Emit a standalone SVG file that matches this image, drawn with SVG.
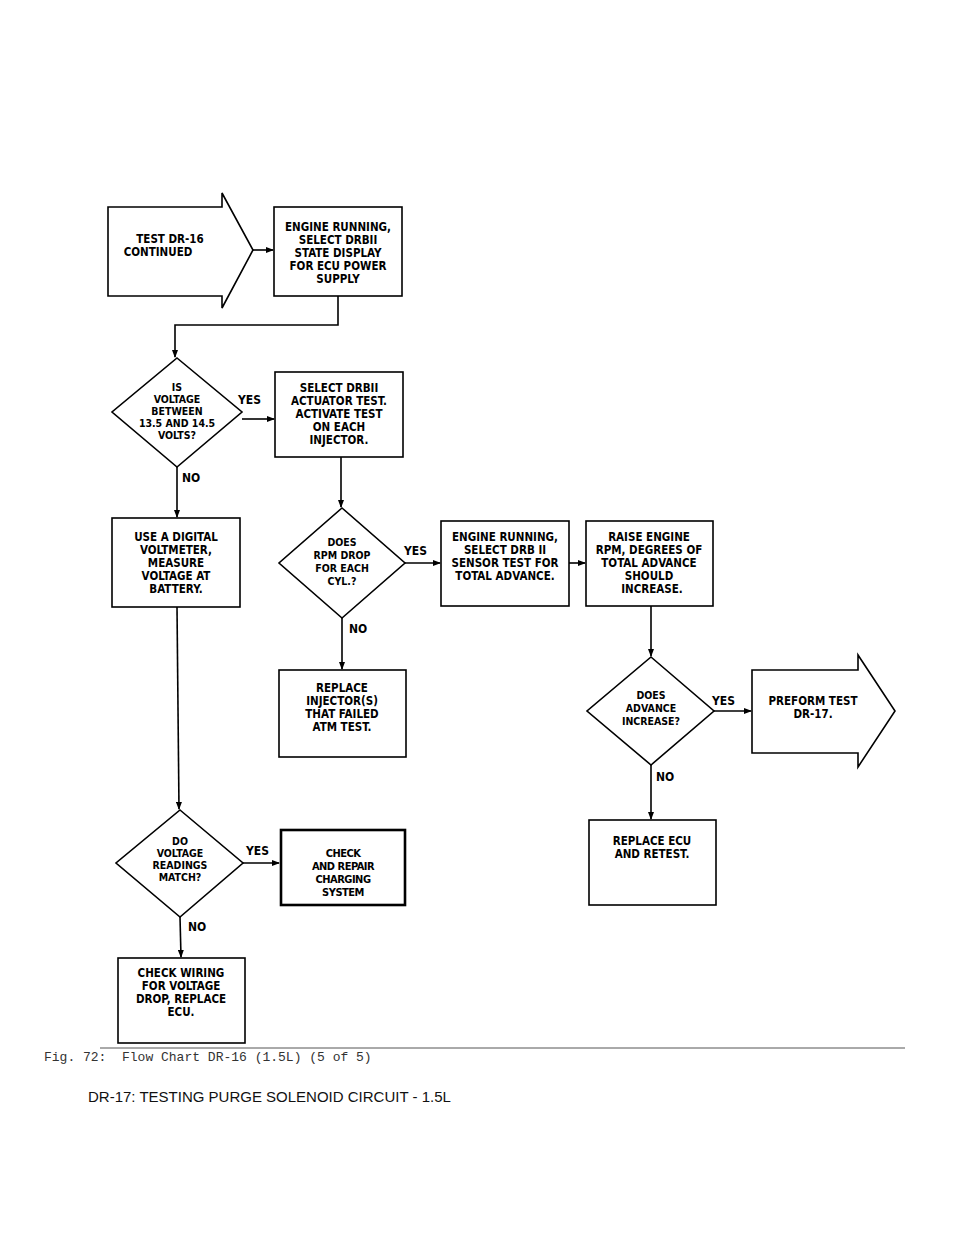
<svg xmlns="http://www.w3.org/2000/svg" width="960" height="1242" viewBox="0 0 960 1242">
<style>
.s{fill:#fff;stroke:#000;stroke-width:1.6}
.t{font-family:"DejaVu Sans Condensed","DejaVu Sans",sans-serif;font-size:11.5px;font-weight:bold;text-anchor:middle}
.d{font-family:"DejaVu Sans Condensed","DejaVu Sans",sans-serif;font-size:10.5px;font-weight:bold;text-anchor:middle}
.l{font-family:"DejaVu Sans Condensed","DejaVu Sans",sans-serif;font-size:12px;font-weight:bold}
.c{fill:none;stroke:#000;stroke-width:1.6}
</style>
<defs><marker id="a" markerWidth="8" markerHeight="6" refX="7" refY="3" orient="auto" markerUnits="userSpaceOnUse"><path d="M0,0 L8,3 L0,6z"/></marker></defs>
<rect width="960" height="1242" fill="#fff"/>
<g id="connectors">
<path class="c" d="M253,250 H273" marker-end="url(#a)"/>
<path class="c" d="M338,296 V325 H175 V357" marker-end="url(#a)"/>
<path class="c" d="M242,419 H274" marker-end="url(#a)"/>
<path class="c" d="M177,467 V517" marker-end="url(#a)"/>
<path class="c" d="M341,457 V507" marker-end="url(#a)"/>
<path class="c" d="M405,563 H440" marker-end="url(#a)"/>
<path class="c" d="M569,563 H585" marker-end="url(#a)"/>
<path class="c" d="M342,618 V669" marker-end="url(#a)"/>
<path class="c" d="M651,606 V656" marker-end="url(#a)"/>
<path class="c" d="M714,711 H751" marker-end="url(#a)"/>
<path class="c" d="M651,765 V819" marker-end="url(#a)"/>
<path class="c" d="M177,607 L179,809" marker-end="url(#a)"/>
<path class="c" d="M243,863 H279" marker-end="url(#a)"/>
<path class="c" d="M180,917 L181,957" marker-end="url(#a)"/>
<text class="l" x="238" y="404">YES</text>
<text class="l" x="182" y="482">NO</text>
<text class="l" x="404" y="555">YES</text>
<text class="l" x="349" y="633">NO</text>
<text class="l" x="712" y="705">YES</text>
<text class="l" x="656" y="781">NO</text>
<text class="l" x="246" y="855">YES</text>
<text class="l" x="188" y="931">NO</text>
</g>
<g id="n1"><polygon class="s" points="108,207 222,207 222,193 253,250 222,308 222,296 108,296"/>
<text class="t" x="170" y="243">TEST DR-16</text><text class="t" x="158" y="256">CONTINUED</text></g>
<g id="n2"><rect class="s" x="274" y="207" width="128" height="89"/>
<text class="t" x="338" y="231">ENGINE RUNNING,</text><text class="t" x="338" y="244">SELECT DRBII</text><text class="t" x="338" y="257">STATE DISPLAY</text><text class="t" x="338" y="270">FOR ECU POWER</text><text class="t" x="338" y="283">SUPPLY</text></g>
<g id="n3"><polygon class="s" points="177,358 242,412 177,467 112,412"/>
<text class="d" x="177" y="391">IS</text><text class="d" x="177" y="403">VOLTAGE</text><text class="d" x="177" y="415">BETWEEN</text><text class="d" x="177" y="427">13.5 AND 14.5</text><text class="d" x="177" y="439">VOLTS?</text></g>
<g id="n4"><rect class="s" x="275" y="372" width="128" height="85"/>
<text class="t" x="339" y="392">SELECT DRBII</text><text class="t" x="339" y="405">ACTUATOR TEST.</text><text class="t" x="339" y="418">ACTIVATE TEST</text><text class="t" x="339" y="431">ON EACH</text><text class="t" x="339" y="444">INJECTOR.</text></g>
<g id="n5"><rect class="s" x="112" y="518" width="128" height="89"/>
<text class="t" x="176" y="541">USE A DIGITAL</text><text class="t" x="176" y="554">VOLTMETER,</text><text class="t" x="176" y="567">MEASURE</text><text class="t" x="176" y="580">VOLTAGE AT</text><text class="t" x="176" y="593">BATTERY.</text></g>
<g id="n6"><polygon class="s" points="342,508 405,563 342,618 279,563"/>
<text class="d" x="342" y="546">DOES</text><text class="d" x="342" y="559">RPM DROP</text><text class="d" x="342" y="572">FOR EACH</text><text class="d" x="342" y="585">CYL.?</text></g>
<g id="n7"><rect class="s" x="441" y="521" width="128" height="85"/>
<text class="t" x="505" y="541">ENGINE RUNNING,</text><text class="t" x="505" y="554">SELECT DRB II</text><text class="t" x="505" y="567">SENSOR TEST FOR</text><text class="t" x="505" y="580">TOTAL ADVANCE.</text></g>
<g id="n8"><rect class="s" x="586" y="521" width="127" height="85"/>
<text class="t" x="649" y="541">RAISE ENGINE</text><text class="t" x="649" y="554">RPM, DEGREES OF</text><text class="t" x="649" y="567">TOTAL ADVANCE</text><text class="t" x="649" y="580">SHOULD</text><text class="t" x="652" y="593">INCREASE.</text></g>
<g id="n9"><rect class="s" x="279" y="670" width="127" height="87"/>
<text class="t" x="342" y="692">REPLACE</text><text class="t" x="342" y="705">INJECTOR(S)</text><text class="t" x="342" y="718">THAT FAILED</text><text class="t" x="342" y="731">ATM TEST.</text></g>
<g id="n10"><polygon class="s" points="651,657 714,711 651,765 587,711"/>
<text class="d" x="651" y="699">DOES</text><text class="d" x="651" y="712">ADVANCE</text><text class="d" x="651" y="725">INCREASE?</text></g>
<g id="n11"><polygon class="s" points="752,670 858,670 858,655 895,711 858,767 858,753 752,753"/>
<text class="t" x="813" y="705">PREFORM TEST</text><text class="t" x="813" y="718">DR-17.</text></g>
<g id="n12"><rect class="s" x="589" y="820" width="127" height="85"/>
<text class="t" x="652" y="845">REPLACE ECU</text><text class="t" x="652" y="858">AND RETEST.</text></g>
<g id="n13"><polygon class="s" points="180,810 243,863 180,917 116,863"/>
<text class="d" x="180" y="845">DO</text><text class="d" x="180" y="857">VOLTAGE</text><text class="d" x="180" y="869">READINGS</text><text class="d" x="180" y="881">MATCH?</text></g>
<g id="n14"><rect x="281" y="830" width="124" height="75" fill="#fff" stroke="#000" stroke-width="2.6"/>
<g class="t" style="font-weight:900;font-size:11px;letter-spacing:-0.5px"><text x="343" y="857">CHECK</text><text x="343" y="870">AND REPAIR</text><text x="343" y="883">CHARGING</text><text x="343" y="896">SYSTEM</text></g></g>
<g id="n15"><rect class="s" x="118" y="958" width="127" height="85"/>
<text class="t" x="181" y="977">CHECK WIRING</text><text class="t" x="181" y="990">FOR VOLTAGE</text><text class="t" x="181" y="1003">DROP, REPLACE</text><text class="t" x="181" y="1016">ECU.</text></g>
<line x1="100" y1="1048" x2="905" y2="1048" stroke="#555" stroke-width="1"/>
<text x="44" y="1061" font-family="Liberation Mono,monospace" font-size="13" fill="#333" xml:space="preserve">Fig. 72:  Flow Chart DR-16 (1.5L) (5 of 5)</text>
<text x="88" y="1102" font-family="Liberation Sans,Arial,sans-serif" font-size="15" fill="#111">DR-17: TESTING PURGE SOLENOID CIRCUIT - 1.5L</text>
</svg>
